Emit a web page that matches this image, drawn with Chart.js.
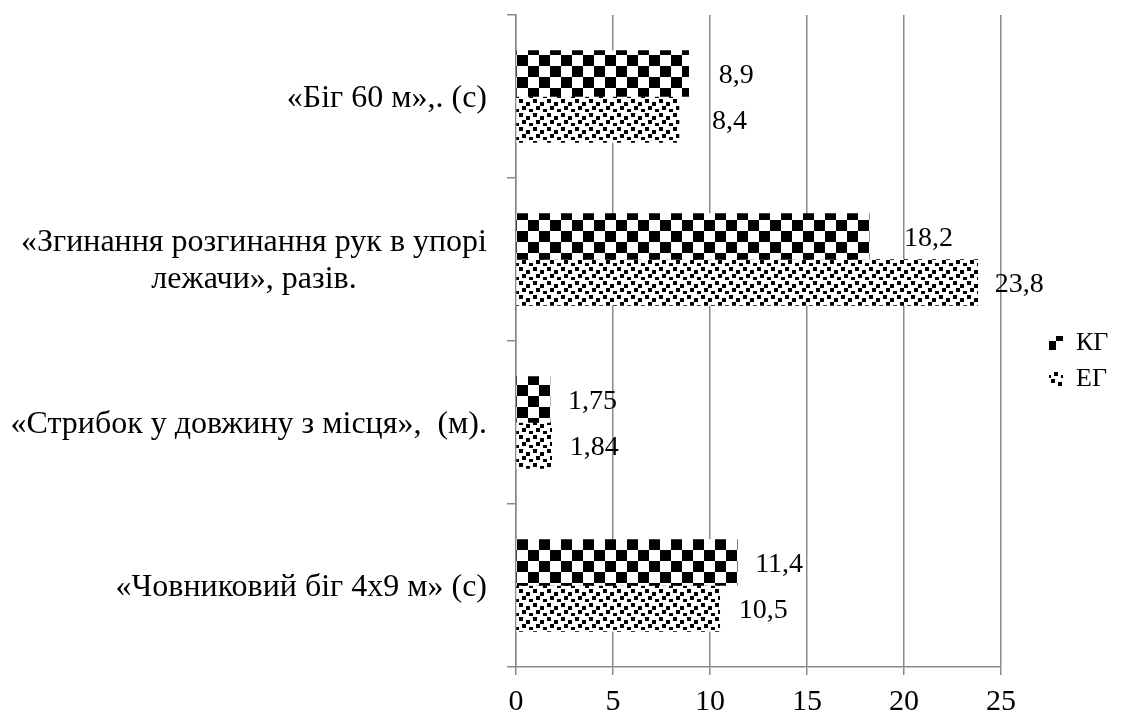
<!DOCTYPE html>
<html>
<head>
<meta charset="utf-8">
<script src="https://cdn.jsdelivr.net/npm/chart.js@4"></script>
<style>
  html, body { margin: 0; padding: 0; background: #fff; }
  canvas { display: block; }
</style>
</head>
<body>
<canvas id="chart" width="1121" height="717"></canvas>
<script>
// categories, top to bottom
var categories = [
  '«Біг 60 м»,. (с)',
  ['«Згинання розгинання рук в упорі', 'лежачи», разів.'],
  '«Стрибок у довжину з місця»,  (м).',
  '«Човниковий біг 4х9 м» (с)'
];
var seriesNames = ['КГ', 'ЕГ'];
var kgValues = [8.9, 18.2, 1.75, 11.4];
var egValues = [8.4, 23.8, 1.84, 10.5];
var xTicks = [0, 5, 10, 15, 20, 25];

// label nudges (px to the right of bar end), style only
var labelNudge = [[30, 35, 18, 18], [33, 17, 18, 19]];

var GRID = '#8a8a8a';
var SERIF = "'Liberation Serif', 'Times New Roman', serif";
Chart.defaults.font.family = SERIF;
Chart.defaults.color = '#000';

/*
 * build canvas pattern
 * [w], [h] - tile size
 * [draw] - function drawing the tile
 */
function makePattern(w, h, draw) {
  var c = document.createElement('canvas');
  c.width = w; c.height = h;
  var g = c.getContext('2d');
  g.fillStyle = '#fff';
  g.fillRect(0, 0, w, h);
  g.fillStyle = '#000';
  draw(g);
  return document.getElementById('chart').getContext('2d').createPattern(c, 'repeat');
}

var checker = makePattern(22, 22, function (g) {
  g.fillRect(0, 0, 11, 11);
  g.fillRect(11, 11, 11, 11);
});

// confetti-like dots
var dots = makePattern(14, 14, function (g) {
  g.fillRect(1, 1, 4, 4);
  g.fillRect(8, 4, 4, 4);
  g.fillRect(4, 8, 4, 4);
  g.fillRect(11, 11, 3, 3);
  g.fillRect(0, 11, 1, 3);
});

var catLabels = {
  id: 'catLabels',
  afterDraw: function (chart) {
    var s = chart.scales.y, ctx = chart.ctx;
    ctx.save();
    ctx.font = '32px ' + SERIF;
    ctx.fillStyle = '#000';
    ctx.textBaseline = 'middle';
    ctx.textAlign = 'center';
    var right = s.right - 9 - 20;
    categories.forEach(function (cat, i) {
      var lines = [].concat(cat);
      var w = Math.max.apply(null, lines.map(function (l) { return ctx.measureText(l).width; }));
      var y0 = s.getPixelForTick(i) + 2;
      lines.forEach(function (l, j) {
        ctx.fillText(l, right - w / 2, y0 + (j - (lines.length - 1) / 2) * 37);
      });
    });
    ctx.restore();
  }
};

var valueLabels = {
  id: 'valueLabels',
  afterDatasetsDraw: function (chart) {
    var ctx = chart.ctx;
    ctx.save();
    ctx.font = '28px ' + SERIF;
    ctx.fillStyle = '#000';
    ctx.textBaseline = 'middle';
    ctx.textAlign = 'left';
    chart.data.datasets.forEach(function (ds, di) {
      chart.getDatasetMeta(di).data.forEach(function (bar, i) {
        var txt = String(ds.data[i]).replace('.', ',');
        ctx.fillText(txt, bar.x + labelNudge[di][i], bar.y + 2);
      });
    });
    ctx.restore();
  }
};

var legendPlace = {
  id: 'legendPlace',
  beforeInit: function (chart) {
    var fit = chart.legend.fit;
    chart.legend.fit = function () {
      fit.call(this);
      this.width = 120;
    };
  },
  afterLayout: function (chart) {
    chart.legend.left += 38;
    chart.legend.right += 38;
    chart.legend.top -= 5;
    chart.legend.bottom -= 5;
  }
};

var chart = new Chart('chart', {
  type: 'bar',
  data: {
    labels: categories,
    datasets: [{
      label: seriesNames[0],
      data: kgValues,
      backgroundColor: checker,
      borderWidth: 0,
      barThickness: 46
    }, {
      label: seriesNames[1],
      data: egValues,
      backgroundColor: dots,
      borderWidth: 0,
      barThickness: 46
    }]
  },
  options: {
    indexAxis: 'y',
    responsive: false,
    animation: false,
    devicePixelRatio: 1,
    layout: { padding: { top: 15, left: 0, right: 0, bottom: 0 } },
    scales: {
      x: {
        min: 0,
        max: 25,
        afterBuildTicks: function (s) { s.ticks = xTicks.map(function (v) { return { value: v }; }); },
        afterFit: function (s) { s.height = 50; },
        ticks: { font: { size: 30 }, color: '#000', padding: 9 },
        grid: { color: GRID, lineWidth: 1.5, tickLength: 8 },
        border: { color: GRID, width: 1.5 }
      },
      y: {
        afterFit: function (s) { s.width = 516; },
        ticks: { display: false },
        grid: { drawOnChartArea: false, color: GRID, lineWidth: 1.5, tickLength: 9, offset: true },
        border: { color: GRID, width: 1.5 }
      }
    },
    plugins: {
      legend: {
        position: 'right',
        labels: { boxWidth: 14, boxHeight: 14, padding: 10, color: '#000', font: { size: 26 } }
      },
      tooltip: { enabled: false }
    }
  },
  plugins: [catLabels, valueLabels, legendPlace]
});
</script>
</body>
</html>
